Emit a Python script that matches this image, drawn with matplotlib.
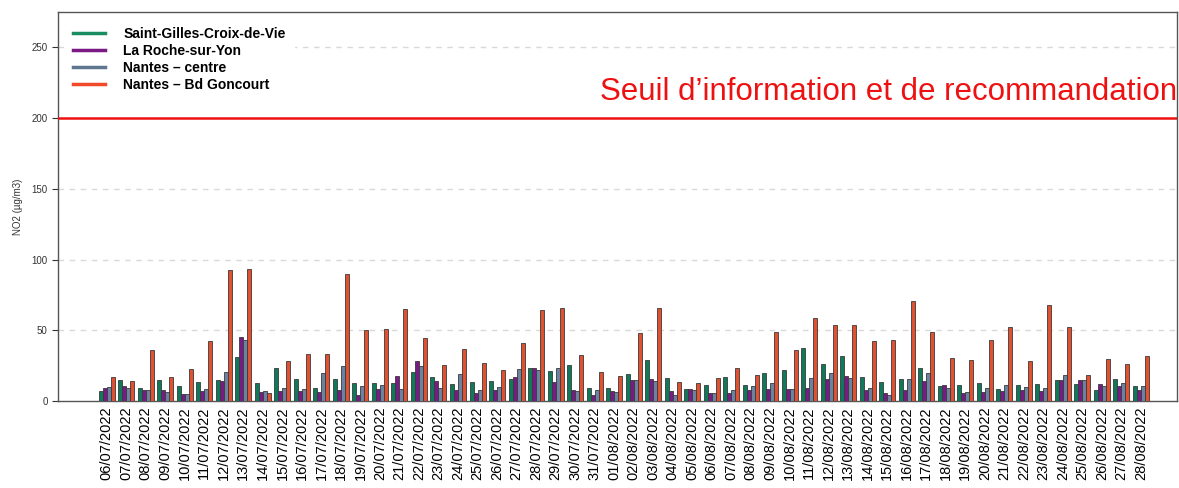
import matplotlib
matplotlib.use("Agg")
import matplotlib.pyplot as plt
import numpy as np
from matplotlib.lines import Line2D

plt.rcParams['font.family'] = ['Liberation Sans', 'DejaVu Sans']

dates = ["06/07/2022", "07/07/2022", "08/07/2022", "09/07/2022", "10/07/2022", "11/07/2022",
         "12/07/2022", "13/07/2022", "14/07/2022", "15/07/2022", "16/07/2022", "17/07/2022",
         "18/07/2022", "19/07/2022", "20/07/2022", "21/07/2022", "22/07/2022", "23/07/2022",
         "24/07/2022", "25/07/2022", "26/07/2022", "27/07/2022", "28/07/2022", "29/07/2022",
         "30/07/2022", "31/07/2022", "01/08/2022", "02/08/2022", "03/08/2022", "04/08/2022",
         "05/08/2022", "06/08/2022", "07/08/2022", "08/08/2022", "09/08/2022", "10/08/2022",
         "11/08/2022", "12/08/2022", "13/08/2022", "14/08/2022", "15/08/2022", "16/08/2022",
         "17/08/2022", "18/08/2022", "19/08/2022", "20/08/2022", "21/08/2022", "22/08/2022",
         "23/08/2022", "24/08/2022", "25/08/2022", "26/08/2022", "27/08/2022", "28/08/2022"]

saint_gilles = [6.9, 14.9, 9.5, 14.9, 10.7, 13.5, 14.9, 30.8, 12.6, 23.0, 15.6, 9.5,
                15.6, 12.6, 13.0, 12.6, 20.4, 17.3, 11.8, 13.5, 14.2, 15.6, 23.0, 21.1,
                25.8, 9.5, 9.0, 19.2, 29.1, 16.4, 8.3, 11.1, 17.3, 11.1, 19.7, 21.6,
                37.4, 26.3, 32.0, 16.8, 13.5, 15.6, 23.0, 10.7, 11.1, 12.6, 8.8, 11.1,
                11.8, 14.9, 11.8, 7.6, 15.6, 10.7]
la_roche = [9.5, 10.7, 8.1, 7.6, 5.0, 7.1, 14.2, 45.3, 6.2, 6.9, 6.9, 6.2,
            8.1, 4.5, 8.8, 18.0, 28.4, 14.2, 7.6, 5.7, 7.6, 16.8, 23.5, 13.7,
            7.6, 4.5, 6.9, 14.9, 15.6, 7.1, 8.3, 5.7, 5.5, 8.1, 8.8, 8.8,
            9.5, 15.6, 18.0, 7.6, 5.5, 7.6, 14.2, 11.1, 5.7, 6.2, 6.9, 7.6,
            6.9, 14.9, 14.9, 11.8, 10.7, 7.6]
nantes_centre = [10.2, 9.0, 8.1, 6.2, 5.0, 8.3, 20.4, 42.9, 6.9, 9.0, 8.3, 19.7,
                 24.6, 10.7, 11.1, 8.3, 24.6, 9.5, 19.2, 7.8, 10.2, 22.3, 21.6, 23.0,
                 7.1, 7.8, 6.2, 14.9, 14.2, 4.5, 7.6, 5.7, 7.6, 10.7, 12.6, 8.3,
                 16.4, 19.7, 16.4, 9.0, 4.5, 15.6, 19.7, 9.0, 6.2, 9.5, 11.1, 10.2,
                 9.5, 18.5, 14.9, 10.7, 13.0, 10.7]
nantes_goncourt = [17.3, 14.2, 35.8, 17.3, 22.3, 42.4, 92.7, 93.6, 5.7, 28.4, 32.9, 32.9,
                   89.6, 50.0, 50.9, 64.7, 44.5, 25.4, 37.0, 27.0, 21.8, 41.0, 64.0, 65.4,
                   32.5, 20.4, 18.0, 47.9, 65.4, 13.5, 13.0, 16.4, 23.5, 18.5, 49.1, 36.3,
                   58.5, 53.6, 53.6, 42.4, 42.9, 70.9, 49.1, 30.1, 29.1, 42.9, 52.1, 28.4,
                   67.8, 52.6, 18.5, 29.6, 26.3, 32.0]

series_names = ["Saint-Gilles-Croix-de-Vie", "La Roche-sur-Yon", "Nantes \u2013 centre", "Nantes \u2013 Bd Goncourt"]
series = [saint_gilles, la_roche, nantes_centre, nantes_goncourt]
bar_colors = ["#0f7a5a", "#7a1a86", "#6b82a3", "#e2512f"]
legend_colors = ["#1a8c62", "#7b1a84", "#5e7690", "#f04a2a"]
threshold = 200
threshold_label = "Seuil d\u2019information et de recommandation"

fig = plt.figure(figsize=(11.79, 4.88), dpi=100)
ax = fig.add_axes([58/1179, 1 - 401/488, (1177-58)/1179, (401-12)/488])

x = np.arange(len(dates))
bw = 0.205
for i, (vals, col) in enumerate(zip(series, bar_colors)):
    ax.bar(x + (i - 1.5) * bw, vals, width=bw, color=col, edgecolor="#3a3a3a",
           linewidth=0.6, zorder=3)

ax.axhline(threshold, color="#ee1111", lw=1.8, zorder=4)
for yv in [50, 100, 150, 250]:
    ax.axhline(yv, color="#d9d9d9", lw=1.0, ls=(0, (4, 4)), zorder=1)

ax.set_xlim(-2.5, len(dates) + 0.85)
ax.set_ylim(0, 275)
ax.set_yticks([0, 50, 100, 150, 200, 250])
ax.tick_params(axis='y', labelsize=7, colors="#333333", length=4, width=0.8)
ax.set_xticks(x)
ax.set_xticklabels(dates, rotation=90, fontsize=10.5)
ax.tick_params(axis='x', length=0, pad=4)
ax.set_ylabel("NO2 (\u00b5g/m3)", fontsize=7, color="#333333", labelpad=6)

for s in ax.spines.values():
    s.set_color("#555555")
    s.set_linewidth(1.0)

fig.text(1177/1179, 1 - 92/488, threshold_label, color="#ee1111", fontsize=22.5,
         ha="right", va="center")

handles = [Line2D([0], [0], color=c, lw=2.5) for c in legend_colors]
leg = ax.legend(handles, series_names, loc="upper left", bbox_to_anchor=(0.0, 1.0),
                frameon=True, fancybox=False, framealpha=1.0, edgecolor="white",
                prop={'weight': 'bold', 'size': 10}, handlelength=2.3,
                handletextpad=1.3, labelspacing=0.2, borderpad=0.6)
leg.set_zorder(5)

fig.savefig("out.png", dpi=100)
